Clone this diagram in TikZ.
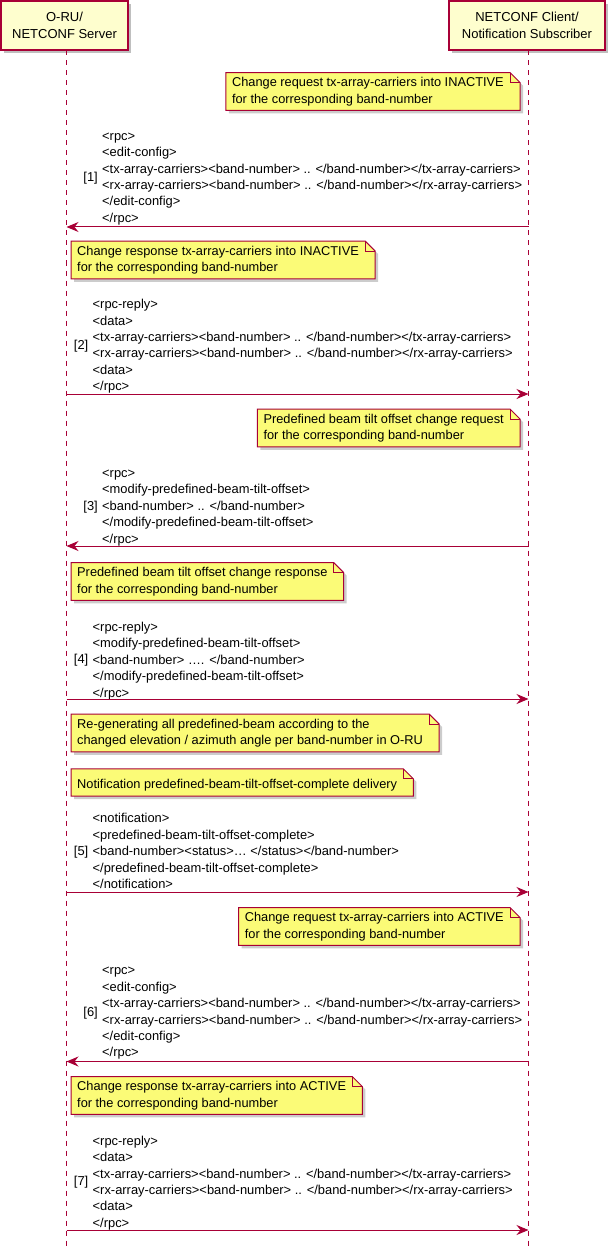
\documentclass[tikz,border=0pt]{standalone}
\usepackage{fontspec}
\setmainfont{Liberation Sans}
\usetikzlibrary{arrows.meta,shadows,backgrounds}
\definecolor{pred}{HTML}{A80036}
\definecolor{ppart}{HTML}{FEFECE}
\definecolor{pnotefill}{HTML}{FBFB77}
\newcommand\pfont{\fontsize{12.9pt}{16.4pt}\selectfont}
\newcommand\nfont{\fontsize{12.8pt}{16.4pt}\selectfont}
\newcommand\pnote[4]{%
  \node[notetext, anchor=#2] (#1) at #3 {#4};
  \begin{pgfonlayer}{background}
  \path[notebox] (#1.north west) -- (#1.north east) -- ([xshift=10pt,yshift=-10pt]#1.north east) -- ([xshift=10pt]#1.south east) -- (#1.south west) -- cycle;
  \draw[notefold] (#1.north east) -- ([yshift=-10pt]#1.north east) -- ([xshift=10pt,yshift=-10pt]#1.north east);
  \end{pgfonlayer}}
\begin{document}
\begin{tikzpicture}[x=1pt,y=-1pt,
  participant/.style={draw=pred, fill=ppart, line width=1.5pt, align=center,
    font=\fontsize{13pt}{16.5pt}\selectfont, inner sep=0pt,
    drop shadow={shadow xshift=3pt, shadow yshift=-3pt, opacity=0.25, fill=black}},
  lifeline/.style={draw=pred, line width=1pt, dash pattern=on 5pt off 5pt},
  msg/.style={draw=pred, line width=1pt, -{Stealth[length=12pt, width=10pt, inset=4pt, fill=pred]}},
  msgtext/.style={font=\pfont, align=left, inner sep=0pt, anchor=west,
    execute at begin node=\strut, execute at end node=\strut},
  msgnum/.style={font=\pfont, inner sep=0pt, anchor=east,
    execute at begin node=\strut},
  notetext/.style={font=\nfont, align=left, inner xsep=6pt, inner ysep=4.6pt,
    minimum height=27pt, execute at begin node=\rule{0pt}{14.5pt},
    execute at end node=\rule[-1.9pt]{0pt}{1.9pt}},
  notebox/.style={draw=pred, fill=pnotefill, line width=1pt,
    preaction={fill=black, opacity=0.2, transform canvas={shift={(3pt,-3pt)}}}},
  notefold/.style={draw=pred, line width=1pt}
]
\useasboundingbox (0,0) rectangle (611,1249);

% participants
\node[participant, minimum width=127pt, minimum height=49pt] (oru) at (64.5,25.5) {O-RU/\\NETCONF Server};
\node[participant, minimum width=156pt, minimum height=49pt] (cli) at (527,25.5) {NETCONF Client/\\Notification Subscriber};

% lifelines
\coordinate (oruTop) at (66.5,50.5);
\coordinate (oruBot) at (66.5,1249);
\coordinate (cliTop) at (528.5,50.5);
\coordinate (cliBot) at (528.5,1249);
\draw[lifeline] (oruTop) -- (oruBot);
\draw[lifeline] (cliTop) -- (cliBot);

% ---------- 1
\pnote{n1}{east}{(510,91.5)}{Change request tx-array-carriers into INACTIVE\\for the corresponding band-number}
\node[msgtext] (m1) at (102,180) {<rpc>\\<edit-config>\\<tx-array-carriers><band-number> .. </band-number></tx-array-carriers>\\<rx-array-carriers><band-number> .. </band-number></rx-array-carriers>\\</edit-config>\\</rpc>};
\node[msgnum] (k1) at ([xshift=-4pt,yshift=1.5pt]m1.west) {[1]};
\coordinate (L1) at (66.5,227);
\coordinate (R1) at (528.5,227);
\draw[msg] (R1) -- (L1);

% ---------- 2
\pnote{n2}{west}{(71,260)}{Change response tx-array-carriers into INACTIVE\\for the corresponding band-number}
\node[msgtext] (m2) at (92.5,347.5) {<rpc-reply>\\<data>\\<tx-array-carriers><band-number> .. </band-number></tx-array-carriers>\\<rx-array-carriers><band-number> .. </band-number></rx-array-carriers>\\<data>\\</rpc>};
\node[msgnum] (k2) at ([xshift=-4pt,yshift=1.5pt]m2.west) {[2]};
\coordinate (L2) at (66.5,394);
\coordinate (R2) at (528.5,394);
\draw[msg] (L2) -- (R2);

% ---------- 3
\pnote{n3}{east}{(510,428)}{Predefined beam tilt offset change request\\for the corresponding band-number}
\node[msgtext] (m3) at (102,509) {<rpc>\\<modify-predefined-beam-tilt-offset>\\<band-number> .. </band-number>\\</modify-predefined-beam-tilt-offset>\\</rpc>};
\node[msgnum] (k3) at ([xshift=-4pt,yshift=1.5pt]m3.west) {[3]};
\coordinate (L3) at (66.5,546);
\coordinate (R3) at (528.5,546);
\draw[msg] (R3) -- (L3);

% ---------- 4
\pnote{n4}{west}{(71,581.5)}{Predefined beam tilt offset change response\\for the corresponding band-number}
\node[msgtext] (m4) at (92.5,662) {<rpc-reply>\\<modify-predefined-beam-tilt-offset>\\<band-number> …. </band-number>\\</modify-predefined-beam-tilt-offset>\\</rpc>};
\node[msgnum] (k4) at ([xshift=-4pt,yshift=1.5pt]m4.west) {[4]};
\coordinate (L4) at (66.5,699);
\coordinate (R4) at (528.5,699);
\draw[msg] (L4) -- (R4);

% ---------- 5
\pnote{n5}{west}{(71,733)}{Re-generating all predefined-beam according to the\\changed elevation / azimuth angle per band-number in O-RU}
\pnote{n6}{west}{(71,782.5)}{Notification predefined-beam-tilt-offset-complete delivery}
\node[msgtext] (m5) at (92.5,853.5) {<notification>\\<predefined-beam-tilt-offset-complete>\\<band-number><status>… </status></band-number>\\</predefined-beam-tilt-offset-complete>\\</notification>};
\node[msgnum] (k5) at ([xshift=-4pt,yshift=1.5pt]m5.west) {[5]};
\coordinate (L5) at (66.5,892);
\coordinate (R5) at (528.5,892);
\draw[msg] (L5) -- (R5);

% ---------- 6
\pnote{n7}{east}{(510,926.5)}{Change request tx-array-carriers into ACTIVE\\for the corresponding band-number}
\node[msgtext] (m6) at (102,1014.5) {<rpc>\\<edit-config>\\<tx-array-carriers><band-number> .. </band-number></tx-array-carriers>\\<rx-array-carriers><band-number> .. </band-number></rx-array-carriers>\\</edit-config>\\</rpc>};
\node[msgnum] (k6) at ([xshift=-4pt,yshift=1.5pt]m6.west) {[6]};
\coordinate (L6) at (66.5,1061.5);
\coordinate (R6) at (528.5,1061.5);
\draw[msg] (R6) -- (L6);

% ---------- 7
\pnote{n8}{west}{(71,1095.5)}{Change response tx-array-carriers into ACTIVE\\for the corresponding band-number}
\node[msgtext] (m7) at (92.5,1184) {<rpc-reply>\\<data>\\<tx-array-carriers><band-number> .. </band-number></tx-array-carriers>\\<rx-array-carriers><band-number> .. </band-number></rx-array-carriers>\\<data>\\</rpc>};
\node[msgnum] (k7) at ([xshift=-4pt,yshift=1.5pt]m7.west) {[7]};
\coordinate (L7) at (66.5,1230);
\coordinate (R7) at (528.5,1230);
\draw[msg] (L7) -- (R7);
\end{tikzpicture}
\end{document}
